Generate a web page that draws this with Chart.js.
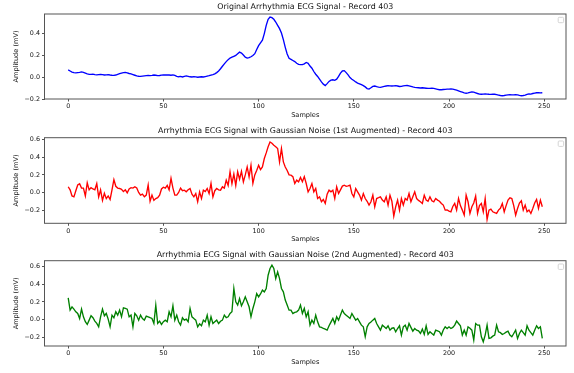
<!DOCTYPE html>
<html>
<head>
<meta charset="utf-8">
<script src="https://cdn.jsdelivr.net/npm/chart.js@4.4.0/dist/chart.umd.min.js"></script>
<style>
  html, body { margin: 0; padding: 0; background: #fff; }
  #wrap { position: relative; width: 574px; height: 373px; overflow: hidden; }
  canvas { position: absolute; left: 0; }
</style>
</head>
<body>
<div id="wrap">
  <canvas id="c1" width="574" height="124" style="top:0px"></canvas>
  <canvas id="c2" width="574" height="124" style="top:124px"></canvas>
  <canvas id="c3" width="574" height="125" style="top:248px"></canvas>
</div>
<script>
// ECG record 403: original trace and two Gaussian-noise augmentations (mV)
const sampleCount = 250;
const samples = Array.from({ length: sampleCount }, (_, i) => i);

const originalEcg = [
  0.065, 0.055, 0.045, 0.040, 0.038, 0.040, 0.042, 0.046, 0.042, 0.035,
  0.028, 0.024, 0.024, 0.026, 0.022, 0.020, 0.022, 0.024, 0.021, 0.018,
  0.020, 0.022, 0.018, 0.016, 0.015, 0.018, 0.024, 0.030, 0.036, 0.040,
  0.042, 0.038, 0.032, 0.028, 0.022, 0.016, 0.010, 0.007, 0.006, 0.008,
  0.010, 0.012, 0.014, 0.013, 0.015, 0.018, 0.016, 0.012, 0.014, 0.017,
  0.019, 0.018, 0.020, 0.018, 0.016, 0.019, 0.014, 0.006, 0.002, 0.005,
  0.000, 0.006, 0.010, 0.006, 0.002, 0.000, 0.003, 0.001, -0.002, 0.000,
  0.002, 0.000, 0.004, 0.008, 0.012, 0.018, 0.022, 0.028, 0.040, 0.055,
  0.075, 0.098, 0.120, 0.140, 0.158, 0.172, 0.180, 0.188, 0.196, 0.212,
  0.226, 0.218, 0.200, 0.180, 0.172, 0.176, 0.184, 0.196, 0.212, 0.250,
  0.285, 0.310, 0.335, 0.395, 0.470, 0.525, 0.545, 0.540, 0.525, 0.500,
  0.470, 0.440, 0.400, 0.340, 0.270, 0.210, 0.170, 0.160, 0.150, 0.140,
  0.125, 0.115, 0.112, 0.112, 0.120, 0.132, 0.125, 0.100, 0.080, 0.050,
  0.025, 0.005, -0.020, -0.045, -0.065, -0.078, -0.060, -0.040, -0.028, -0.025,
  -0.030, -0.020, 0.005, 0.035, 0.055, 0.058, 0.040, 0.020, -0.005, -0.020,
  -0.032, -0.045, -0.055, -0.062, -0.070, -0.078, -0.090, -0.105, -0.110, -0.098,
  -0.085, -0.082, -0.088, -0.092, -0.094, -0.090, -0.086, -0.082, -0.078, -0.080,
  -0.082, -0.080, -0.078, -0.082, -0.086, -0.085, -0.080, -0.078, -0.077, -0.080,
  -0.085, -0.090, -0.094, -0.096, -0.098, -0.100, -0.098, -0.100, -0.102, -0.104,
  -0.104, -0.102, -0.104, -0.108, -0.112, -0.116, -0.116, -0.114, -0.112, -0.110,
  -0.110, -0.108, -0.110, -0.115, -0.120, -0.126, -0.132, -0.138, -0.144, -0.148,
  -0.145, -0.140, -0.136, -0.138, -0.144, -0.150, -0.155, -0.157, -0.156, -0.154,
  -0.155, -0.157, -0.158, -0.156, -0.157, -0.160, -0.164, -0.168, -0.170, -0.168,
  -0.165, -0.162, -0.160, -0.162, -0.163, -0.160, -0.163, -0.167, -0.170, -0.168,
  -0.164, -0.158, -0.153, -0.156, -0.150, -0.146, -0.143, -0.142, -0.144, -0.143
];

const augmentedEcg1 = [
  0.065, 0.030, -0.040, -0.050, 0.020, 0.085, 0.100, 0.050, 0.050, -0.040,
  0.110, 0.030, 0.055, 0.040, 0.030, 0.100, -0.050, 0.030, -0.090, -0.010,
  -0.070, -0.040, -0.080, 0.030, 0.145, 0.070, 0.050, 0.045, 0.035, 0.010,
  0.030, -0.005, 0.040, 0.055, 0.050, 0.065, 0.050, 0.000, -0.030, -0.020,
  -0.050, -0.030, 0.085, -0.100, -0.030, -0.090, -0.070, -0.060, -0.030, 0.040,
  0.060, 0.050, 0.080, 0.030, 0.160, 0.050, -0.030, -0.030, 0.000, 0.050,
  0.020, 0.026, 0.007, 0.030, 0.045, -0.020, -0.050, -0.012, -0.106, 0.007,
  -0.069, 0.026, 0.010, 0.045, -0.012, 0.102, -0.050, 0.020, 0.045, 0.030,
  0.026, 0.064, 0.050, 0.140, 0.080, 0.235, 0.100, 0.210, 0.080, 0.235,
  0.150, 0.240, 0.120, 0.200, 0.290, 0.178, 0.310, 0.104, 0.200, 0.250,
  0.310, 0.260, 0.290, 0.386, 0.450, 0.519, 0.575, 0.560, 0.537, 0.520,
  0.500, 0.348, 0.500, 0.348, 0.290, 0.250, 0.200, 0.197, 0.180, 0.102,
  0.140, 0.121, 0.170, 0.121, 0.180, 0.102, 0.007, 0.045, 0.102, 0.007,
  0.045, -0.069, -0.050, -0.106, -0.080, -0.125, -0.020, 0.026, 0.007, 0.026,
  -0.069, 0.064, -0.012, 0.030, 0.072, 0.083, 0.070, 0.075, 0.083, -0.012,
  -0.050, 0.045, 0.007, -0.030, -0.087, -0.012, -0.069, -0.100, -0.144, -0.106,
  -0.031, -0.163, -0.069, -0.060, -0.050, -0.087, -0.106, -0.050, -0.144, -0.031,
  -0.100, -0.269, -0.163, -0.087, -0.201, -0.069, -0.144, -0.069, -0.087, -0.012,
  -0.106, -0.050, 0.007, -0.069, -0.090, -0.106, -0.125, -0.031, -0.087, -0.100,
  -0.050, -0.095, -0.106, -0.069, -0.087, -0.100, -0.125, -0.144, -0.201, -0.200,
  -0.212, -0.220, -0.160, -0.125, -0.200, -0.069, -0.150, -0.201, -0.258, -0.031,
  -0.106, -0.239, -0.163, -0.120, -0.042, -0.239, -0.150, -0.125, -0.220, -0.069,
  -0.307, -0.201, -0.190, -0.220, -0.230, -0.239, -0.201, -0.180, -0.125, -0.220,
  -0.150, -0.087, -0.060, -0.069, -0.150, -0.258, -0.182, -0.120, -0.095, -0.201,
  -0.144, -0.220, -0.200, -0.239, -0.182, -0.120, -0.080, -0.182, -0.087, -0.163
];

const augmentedEcg2 = [
  0.245, 0.106, 0.143, 0.117, 0.087, 0.068, 0.011, 0.117, 0.030, -0.026,
  -0.057, -0.008, 0.042, 0.019, -0.019, -0.045, -0.083, 0.030, 0.117, 0.042,
  0.068, 0.004, -0.083, 0.049, 0.019, 0.087, 0.049, 0.106, 0.030, 0.132,
  0.125, 0.117, 0.030, 0.049, -0.083, 0.068, 0.042, -0.008, 0.049, 0.011,
  -0.008, 0.038, 0.030, 0.020, 0.011, -0.045, 0.162, -0.045, -0.019, -0.057,
  -0.026, -0.008, -0.026, 0.087, 0.030, 0.155, -0.008, 0.049, -0.026, -0.064,
  0.019, -0.008, 0.004, -0.026, 0.125, 0.030, 0.010, -0.008, -0.084, -0.050,
  -0.072, -0.008, -0.027, 0.049, -0.065, 0.030, -0.046, -0.027, -0.008, -0.046,
  -0.020, -0.008, 0.049, 0.020, 0.030, 0.068, 0.087, 0.352, 0.200, 0.163,
  0.238, 0.155, 0.200, 0.257, 0.200, 0.144, 0.030, 0.125, 0.200, 0.295,
  0.257, 0.290, 0.333, 0.314, 0.352, 0.503, 0.579, 0.617, 0.579, 0.465,
  0.541, 0.465, 0.352, 0.314, 0.220, 0.163, 0.106, 0.106, 0.068, 0.080,
  0.087, 0.106, 0.163, 0.068, 0.125, 0.030, 0.087, -0.065, -0.008, -0.046,
  0.049, -0.027, -0.084, -0.090, -0.103, -0.110, -0.122, -0.072, -0.030, 0.011,
  -0.046, 0.030, -0.008, 0.050, 0.106, 0.068, 0.049, 0.030, 0.011, 0.068,
  0.030, -0.008, 0.011, -0.027, -0.065, -0.084, -0.197, -0.084, -0.046, -0.030,
  -0.008, 0.011, -0.046, -0.084, -0.122, -0.065, -0.084, -0.103, -0.072, -0.122,
  -0.100, -0.095, -0.140, -0.103, -0.072, -0.178, -0.084, -0.065, -0.122, -0.046,
  -0.090, -0.133, -0.103, -0.122, -0.130, -0.160, -0.110, -0.170, -0.072, -0.170,
  -0.140, -0.160, -0.178, -0.122, -0.130, -0.140, -0.178, -0.120, -0.084, -0.103,
  -0.084, -0.103, -0.090, -0.065, -0.019, -0.046, -0.072, -0.178, -0.122, -0.178,
  -0.084, -0.100, -0.122, -0.235, -0.046, -0.065, -0.065, -0.197, -0.254, -0.178,
  -0.065, -0.216, -0.209, -0.190, -0.178, -0.065, -0.140, -0.150, -0.170, -0.160,
  -0.145, -0.133, -0.178, -0.197, -0.160, -0.122, -0.216, -0.160, -0.122, -0.150,
  -0.178, -0.072, -0.122, -0.150, -0.178, -0.122, -0.072, -0.103, -0.084, -0.216
];

const xTicks = [0, 50, 100, 150, 200, 250];
const yTicksOriginal = [-0.2, 0.0, 0.2, 0.4];
const yTicksAugmented = [-0.2, 0.0, 0.2, 0.4, 0.6];

const panelTitles = [
  'Original Arrhythmia ECG Signal - Record 403',
  'Arrhythmia ECG Signal with Gaussian Noise (1st Augmented) - Record 403',
  'Arrhythmia ECG Signal with Gaussian Noise (2nd Augmented) - Record 403'
];
const xAxisLabel = 'Samples';
const yAxisLabel = 'Amplitude (mV)';

// ---- styling / layout ----
const FONT = "'DejaVu Sans', 'Liberation Sans', sans-serif";
const TITLE_SIZE = 7.9;
const LABEL_SIZE = 6.6;
const TICK_SIZE = 6.4;
const SPINE = '#555';
const TEXT = '#111';
const Y_AXIS_WIDTH = 44.5;
const RIGHT_GAP = 8;

function fmtTick(v) {
  const s = Math.abs(v).toFixed(1);
  return (v < -1e-9 ? '\u2212' : '') + s;
}

// frame around the plot area plus an empty legend box in the upper right
const framePlugin = {
  id: 'frame',
  afterDraw(chart) {
    const { ctx, chartArea: a } = chart;
    ctx.save();
    ctx.strokeStyle = SPINE;
    ctx.lineWidth = 1;
    ctx.strokeRect(a.left, a.top, a.right - a.left, a.bottom - a.top);
    const bw = 5.4, bx = a.right - 2.4 - bw, by = a.top + 3.3;
    ctx.strokeStyle = '#d4d4d4';
    ctx.fillStyle = 'rgba(255,255,255,0.8)';
    ctx.beginPath();
    if (ctx.roundRect) ctx.roundRect(bx, by, bw, bw, 1); else ctx.rect(bx, by, bw, bw);
    ctx.fill();
    ctx.stroke();
    ctx.restore();
  }
};

function makePanel(p) {
  const canvas = document.getElementById(p.id);
  const H = canvas.height;
  const titleLH = TITLE_SIZE * 1.2;
  const titlePadTop = p.titleY - titleLH / 2;
  const titlePadBottom = p.areaTop - titlePadTop - titleLH;
  const labelLH = LABEL_SIZE * 1.2;
  const xLabelPad = H - p.xLabelY - labelLH / 2;
  const yLabelPad = 16.7 - labelLH / 2;

  new Chart(canvas, {
    type: 'line',
    data: {
      datasets: [{
        data: samples.map((s, i) => ({ x: s, y: p.values[i] })),
        borderColor: p.color,
        borderWidth: 1.35,
        pointRadius: 0,
        tension: 0,
        fill: false
      }]
    },
    options: {
      responsive: false,
      animation: false,
      devicePixelRatio: 1,
      layout: { padding: { left: 0, right: RIGHT_GAP, top: 0, bottom: 0 } },
      plugins: {
        legend: { display: false },
        tooltip: { enabled: false },
        title: {
          display: true,
          fullSize: false,
          text: p.title,
          color: TEXT,
          font: { family: FONT, size: TITLE_SIZE, weight: 'normal' },
          padding: { top: titlePadTop, bottom: titlePadBottom }
        }
      },
      scales: {
        x: {
          type: 'linear',
          min: -12.45,
          max: 261.45,
          afterBuildTicks: s => { s.ticks = xTicks.map(v => ({ value: v })); },
          afterFit: s => { s.height = H - p.areaBottom; },
          grid: { drawOnChartArea: false, drawTicks: true, tickLength: 2.5, color: SPINE, lineWidth: 1 },
          border: { display: false },
          ticks: {
            color: TEXT, padding: 1.5, maxRotation: 0, autoSkip: false,
            font: { family: FONT, size: TICK_SIZE },
            callback: v => String(v)
          },
          title: {
            display: true, text: xAxisLabel, color: TEXT,
            font: { family: FONT, size: LABEL_SIZE },
            padding: { top: 0, bottom: xLabelPad }
          }
        },
        y: {
          type: 'linear',
          min: p.yMin,
          max: p.yMax,
          afterBuildTicks: s => { s.ticks = p.yTicks.map(v => ({ value: v })); },
          afterFit: s => { s.width = Y_AXIS_WIDTH; },
          grid: { drawOnChartArea: false, drawTicks: true, tickLength: 2.5, color: SPINE, lineWidth: 1 },
          border: { display: false },
          ticks: {
            color: TEXT, padding: 2, autoSkip: false,
            font: { family: FONT, size: TICK_SIZE },
            callback: v => fmtTick(v)
          },
          title: {
            display: true, text: yAxisLabel, color: TEXT,
            font: { family: FONT, size: LABEL_SIZE },
            padding: { top: yLabelPad, bottom: 0 }
          }
        }
      }
    },
    plugins: [framePlugin]
  });
}

makePanel({ id: 'c1', title: panelTitles[0], values: originalEcg, color: '#0000ff',
  yMin: -0.2, yMax: 0.573, yTicks: yTicksOriginal,
  titleY: 7, areaTop: 14, areaBottom: 99, xLabelY: 115 });
makePanel({ id: 'c2', title: panelTitles[1], values: augmentedEcg1, color: '#ff0000',
  yMin: -0.351, yMax: 0.623, yTicks: yTicksAugmented,
  titleY: 7, areaTop: 13.7, areaBottom: 99.3, xLabelY: 115 });
makePanel({ id: 'c3', title: panelTitles[2], values: augmentedEcg2, color: '#008000',
  yMin: -0.302, yMax: 0.668, yTicks: yTicksAugmented,
  titleY: 6.5, areaTop: 12.7, areaBottom: 98, xLabelY: 114 });
</script>
</body>
</html>
